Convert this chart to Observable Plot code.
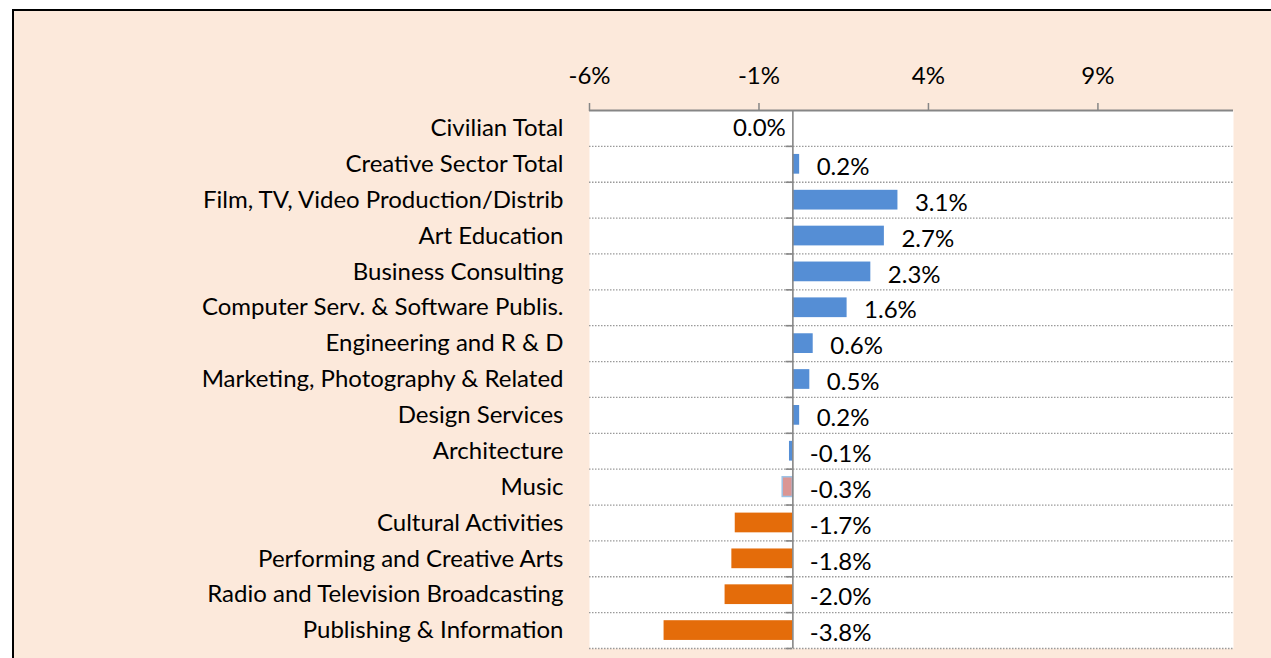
<!DOCTYPE html>
<html>
<head>
<meta charset="utf-8">
<script src="https://cdn.jsdelivr.net/npm/d3@7"></script>
<script src="https://cdn.jsdelivr.net/npm/@observablehq/plot@0.6"></script>
<style>
  html, body { margin: 0; padding: 0; background: #ffffff; width: 1271px; height: 658px; overflow: hidden; }
  #panel { position: absolute; left: 12px; top: 9px; right: 0; bottom: 0; background: #FCE9DB;
           border-top: 2px solid #000; border-left: 2px solid #000; }
  #chart { position: absolute; left: 0; top: 0; }
  #chart svg { background: transparent; overflow: visible; }
</style>
</head>
<body>
<div id="panel"></div>
<div id="chart"></div>
<script>
const categories = [
  "Civilian Total",
  "Creative Sector Total",
  "Film, TV, Video Production/Distrib",
  "Art Education",
  "Business Consulting",
  "Computer Serv. & Software Publis.",
  "Engineering and R & D",
  "Marketing, Photography & Related",
  "Design Services",
  "Architecture",
  "Music",
  "Cultural Activities",
  "Performing and Creative Arts",
  "Radio and Television Broadcasting",
  "Publishing & Information"
];
const values = [0.0, 0.2, 3.1, 2.7, 2.3, 1.6, 0.6, 0.5, 0.2, -0.1, -0.3, -1.7, -1.8, -2.0, -3.8];
const groups = ["up", "up", "up", "up", "up", "up", "up", "up", "up", "up", "music", "down", "down", "down", "down"];
const xTicks = [-6, -1, 4, 9];

const data = categories.map((c, i) => ({category: c, value: values[i], group: groups[i]}));

const W = 1271, H = 658;
const mL = 589, mR = 38, mT = 110, mB = 10;
const step = (H - mT - mB) / categories.length;
const gray = "#868686";

const chart = Plot.plot({
  width: W,
  height: H,
  marginLeft: mL,
  marginRight: mR,
  marginTop: mT,
  marginBottom: mB,
  style: {fontFamily: "Lato, sans-serif", fontSize: "24px", color: "#000", background: "transparent"},
  x: {domain: [-6, 13], axis: null, label: null},
  y: {domain: categories, paddingInner: 0.45, paddingOuter: 0.225, round: false, axis: null, label: null},
  color: {domain: ["up", "music", "down"], range: ["#558ED5", "#DA9694", "#E46C0A"]},
  marks: [
    Plot.frame({fill: "#ffffff", stroke: null}),
    Plot.ruleY(categories, {y: d => d, dy: step / 2, stroke: "#9a9a9a", strokeWidth: 1.3, strokeDasharray: "1.5,1.5"}),
    Plot.barX(data.filter(d => d.value !== 0), {
      x: "value", y: "category", fill: "group",
      stroke: d => d.group === "music" ? "#9DC3E6" : "none", strokeWidth: 1.5
    }),
    Plot.ruleX([0], {stroke: gray, strokeWidth: 1.6}),
    Plot.ruleY(categories, {y: d => d, x1: -0.2, x2: 0, dy: step / 2, stroke: gray, strokeWidth: 1.6}),
    Plot.ruleY([categories[0]], {y: d => d, dy: -step / 2, stroke: gray, strokeWidth: 1.8}),
    Plot.axisX({anchor: "top", ticks: xTicks, tickFormat: d => d + "%", tickSize: 8, tickPadding: 19,
                stroke: gray, strokeWidth: 1.5, fontSize: 24, fill: "#000", label: null}),
    Plot.axisY({anchor: "left", tickSize: 0, tickPadding: 26, fontSize: 24, fill: "#000", label: null}),
    Plot.text(data.filter(d => d.value !== 0), {
      x: d => d.value > 0 ? d.value : 0, y: "category",
      text: d => d.value.toFixed(1) + "%", textAnchor: "start", dx: 17, dy: 3, fill: "#000", fontSize: 24
    }),
    Plot.text(data.filter(d => d.value === 0), {
      x: "value", y: "category",
      text: d => d.value.toFixed(1) + "%", textAnchor: "end", dx: -7, dy: 0, fill: "#000", fontSize: 24
    })
  ]
});
document.getElementById("chart").appendChild(chart);
</script>
</body>
</html>
